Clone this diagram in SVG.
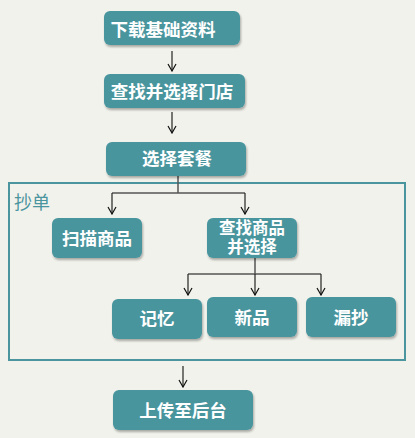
<svg xmlns="http://www.w3.org/2000/svg" width="415" height="438" viewBox="0 0 415 438">
<defs>
<filter id="sh" x="-10%" y="-10%" width="130%" height="140%">
<feDropShadow dx="1" dy="2" stdDeviation="1.2" flood-color="#000" flood-opacity="0.3"/>
</filter>
<marker id="ar" markerWidth="10" markerHeight="10" refX="9" refY="5" orient="auto" markerUnits="userSpaceOnUse" viewBox="0 0 10 10">
<path d="M2,1 L9,5 L2,9" fill="none" stroke="#111" stroke-width="1.2"/>
</marker>
<style>
.box{fill:#4a959e;filter:url(#sh);}
.t{font-family:"Noto Sans CJK SC","Noto Sans",sans-serif;font-weight:bold;font-size:17.5px;fill:#fff;text-anchor:middle;}
.t2{font-family:"Liberation Sans","Noto Sans CJK SC",sans-serif;font-size:16.5px;}
.c{fill:none;stroke:#222;stroke-width:1.2;}
.h{fill:none;stroke:#555;stroke-width:1.5;}
</style>
</defs>
<rect width="415" height="438" fill="#f2f2ec"/>
<g id="group-chaodan">
<rect x="9" y="183" width="396" height="177" fill="none" stroke="#4a959e" stroke-width="2"/>
<text x="14" y="209" style="font-family:'Noto Sans CJK SC','Noto Sans',sans-serif;font-size:18px;fill:#4a959e;">抄单</text>
</g>
<g id="connectors">
<path class="c" d="M172,51 V71" marker-end="url(#ar)"/>
<path class="c" d="M172,112 V133" marker-end="url(#ar)"/>
<path class="h" d="M178,176 V193"/>
<path class="h" d="M112,193 H245"/>
<path class="c" d="M112,193 V214" marker-end="url(#ar)"/>
<path class="c" d="M245,193 V214" marker-end="url(#ar)"/>
<path class="h" d="M255,258 V274"/>
<path class="h" d="M188,274 H321"/>
<path class="c" d="M188,274 V295" marker-end="url(#ar)"/>
<path class="c" d="M255,274 V295" marker-end="url(#ar)"/>
<path class="c" d="M321,274 V295" marker-end="url(#ar)"/>
<path class="c" d="M183,366 V387" marker-end="url(#ar)"/>
</g>
<g id="n1"><rect class="box" x="104" y="11" width="136" height="34" rx="6"/><text class="t" x="163" y="36">下载基础资料</text></g>
<g id="n2"><rect class="box" x="104" y="74" width="141" height="34" rx="6"/><text class="t" x="172" y="98">查找并选择门店</text></g>
<g id="n3"><rect class="box" x="106" y="142" width="140" height="34" rx="6"/><text class="t" x="177" y="165">选择套餐</text></g>
<g id="n4"><rect class="box" x="52" y="218" width="90" height="40" rx="6"/><text class="t" x="97" y="245">扫描商品</text></g>
<g id="n5"><rect class="box" x="207" y="218" width="90" height="40" rx="6"/><text class="t t2" x="252" y="234">查找商品</text><text class="t t2" x="252" y="253">并选择</text></g>
<g id="n6"><rect class="box" x="112" y="299" width="90" height="40" rx="6"/><text class="t" x="157" y="325">记忆</text></g>
<g id="n7"><rect class="box" x="207" y="297" width="90" height="40" rx="6"/><text class="t" x="252" y="324">新品</text></g>
<g id="n8"><rect class="box" x="306" y="297" width="90" height="40" rx="6"/><text class="t" x="351" y="324">漏抄</text></g>
<g id="n9"><rect class="box" x="113" y="390" width="140" height="40" rx="6"/><text class="t" x="183" y="417">上传至后台</text></g>
</svg>
